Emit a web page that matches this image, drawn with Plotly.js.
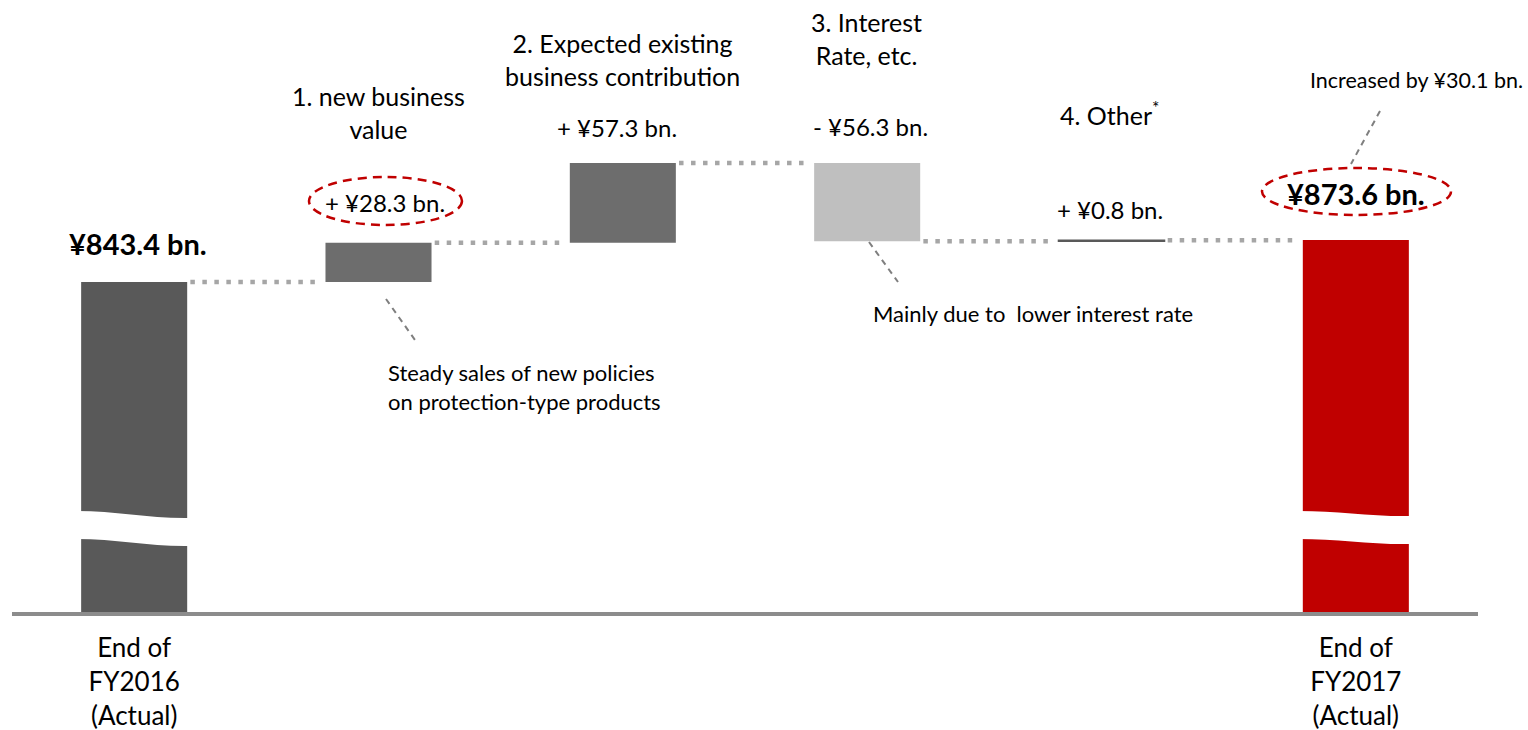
<!DOCTYPE html>
<html><head><meta charset="utf-8">
<script src="https://cdn.plot.ly/plotly-3.0.1.min.js"></script>
<style>html,body{margin:0;padding:0;background:#fff}#chart{width:1528px;height:730px}</style>
</head><body><div id="chart"></div>
<script>
// ---- data ----
const categories = ["End of<br>FY2016<br>(Actual)", "1. new business<br>value", "2. Expected existing<br>business contribution", "3. Interest<br>Rate, etc.", "4. Other<sup>*</sup>", "End of<br>FY2017<br>(Actual)"];
const measures = ["absolute", "relative", "relative", "relative", "relative", "total"];
const values = [843.4, 28.3, 57.3, -56.3, 0.8, 873.6];
const valueLabels = ["¥843.4 bn.", "+ ¥28.3 bn.", "+ ¥57.3 bn.", "- ¥56.3 bn.", "+ ¥0.8 bn.", "¥873.6 bn."];
const noteTexts = ["Steady sales of new policies<br>on protection-type products", "Mainly due to  lower interest rate", "Increased by ¥30.1 bn."];

// ---- styling ----
const barColors = ["#595959", "#6d6d6d", "#6d6d6d", "#bfbfbf", "#595959", "#c00000"];
const FONT = "Lato, 'Open Sans', sans-serif";

// running totals
let running = 0;
const bases = [], heights = [], levels = [];
values.forEach((v, i) => {
  if (measures[i] === 'relative') { bases.push(running); heights.push(v); running += v; }
  else { bases.push(0); heights.push(v); running = v; }
  levels.push(running);
});
const xs = categories.map((c, i) => i);
const tops = bases.map((b, i) => Math.max(b, b + heights[i]));

// layout geometry
const W = 1528, H = 730, M = {l: 12, r: 50, t: 10, b: 118};
const xr = [-0.5, 5.5], yr = [606, 1039.1];
const px2x = p => xr[0] + (p - M.l) / (W - M.l - M.r) * (xr[1] - xr[0]);
const py2y = p => yr[0] + (H - M.b - p) / (H - M.t - M.b) * (yr[1] - yr[0]);

const trace = {
  type: 'bar', x: xs, y: heights, base: bases, width: 0.434,
  marker: {color: barColors, line: {color: barColors, width: [0, 0, 0, 0, 1.5, 0]}},
  hoverinfo: 'none', showlegend: false
};

const shapes = [];
// connectors
for (let i = 0; i < values.length - 1; i++) {
  shapes.push({type: 'line', xref: 'x', yref: 'y', x0: i + 0.23, x1: i + 1 - 0.235, y0: levels[i], y1: levels[i],
    line: {color: '#a6a6a6', width: 4.5, dash: '4.5px,7.5px'}});
}
// axis break bands
function breakBand(i, tL, tR, bL, bR) {
  const xL = i - 0.235, xR = i + 0.235, w = xR - xL;
  const p = (x, y) => x.toFixed(4) + ',' + py2y(y).toFixed(3);
  const path = 'M ' + p(xL, tL) + ' C ' + p(xL + 0.35 * w, tL) + ' ' + p(xR - 0.35 * w, tR + 1) + ' ' + p(xR, tR) +
    ' L ' + p(xR, bR) + ' C ' + p(xR - 0.35 * w, bR + 1) + ' ' + p(xL + 0.35 * w, bL) + ' ' + p(xL, bL) + ' Z';
  return {type: 'path', xref: 'x', yref: 'y', path: path, fillcolor: '#ffffff', line: {width: 0}};
}
shapes.push(breakBand(0, 511, 518, 539, 546));
shapes.push(breakBand(5, 511, 516, 539, 544));
// dashed ellipses
function ellipse(x0, y0, x1, y1) {
  return {type: 'circle', xref: 'x', yref: 'y', x0: px2x(x0), x1: px2x(x1), y0: py2y(y1), y1: py2y(y0),
    line: {color: '#c00000', width: 2.5, dash: '9px,6px'}};
}
shapes.push(ellipse(309, 177, 462, 225));
shapes.push(ellipse(1262, 168, 1451, 215));
// leader lines
function leader(x0, y0, x1, y1) {
  return {type: 'line', xref: 'x', yref: 'y', x0: px2x(x0), y0: py2y(y0), x1: px2x(x1), y1: py2y(y1),
    line: {color: '#7f7f7f', width: 2, dash: '6px,5px'}};
}
shapes.push(leader(386, 299, 415, 340));
shapes.push(leader(869, 242, 898, 282));
shapes.push(leader(1380, 111, 1351, 164));

const annotations = [];
// value labels
const valShift = [39, 40, 36, 37, 31, 47];
const valXShift = [4, 6, -6, 3, -2, 0];
valueLabels.forEach((t, i) => {
  const bold = measures[i] !== 'relative';
  annotations.push({x: xs[i], y: tops[i], xref: 'x', yref: 'y', text: bold ? '<b>' + t + '</b>' : t, showarrow: false,
    xanchor: 'center', yanchor: 'middle', yshift: valShift[i], xshift: valXShift[i],
    font: {family: FONT, size: bold ? 29 : 24, color: '#000'}});
});
// category labels above middle bars
const catShift = [0, 130, 104, 125, 127, 0];
const catXShift = [0, 0, 0, -1, -2, 0];
categories.forEach((c, i) => {
  if (measures[i] !== 'relative') return;
  annotations.push({x: xs[i], y: tops[i], xref: 'x', yref: 'y', text: c, showarrow: false,
    xanchor: 'center', yanchor: 'middle', yshift: catShift[i], xshift: catXShift[i],
    font: {family: FONT, size: 25, color: '#000'}});
});
// notes
const notePos = [[386, 387], [871, 313], [1308, 80]];
noteTexts.forEach((t, i) => {
  annotations.push({x: px2x(notePos[i][0]), y: py2y(notePos[i][1]), xref: 'x', yref: 'y', text: t, showarrow: false,
    xanchor: 'left', yanchor: 'middle', align: 'left', font: {family: FONT, size: i === 2 ? 21.5 : 22, color: '#000'}});
});

const layout = {
  width: W, height: H, margin: M, paper_bgcolor: '#fff', plot_bgcolor: '#fff', showlegend: false,
  xaxis: {range: xr, showgrid: false, zeroline: false, showline: true, linecolor: '#8c8c8c', linewidth: 4,
    tickvals: [xs[0], xs[5]], ticktext: [categories[0], categories[5]], ticks: '', ticklabelstandoff: 10,
    tickfont: {family: FONT, size: 26, color: '#000'}, fixedrange: true},
  yaxis: {range: yr, visible: false, showgrid: false, zeroline: false, fixedrange: true},
  shapes: shapes, annotations: annotations, font: {family: FONT}
};
Plotly.newPlot('chart', [trace], layout, {displayModeBar: false, staticPlot: true});
</script></body></html>
